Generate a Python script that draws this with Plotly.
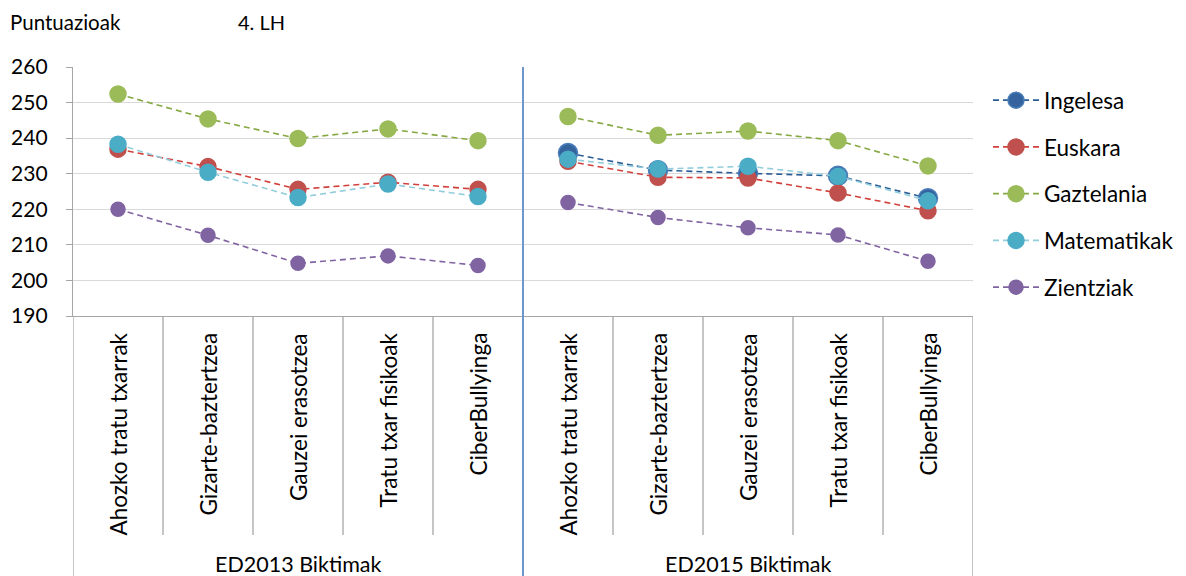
import plotly.graph_objects as go

# ---- data ----
groups = ["ED2013 Biktimak", "ED2015 Biktimak"]
categories = ["Ahozko tratu txarrak", "Gizarte-baztertzea", "Gauzei erasotzea",
              "Tratu txar fisikoak", "CiberBullyinga"]
series_names = ["Ingelesa", "Euskara", "Gaztelania", "Matematikak", "Zientziak"]

ingelesa_2013 = [None, None, None, None, None]
ingelesa_2015 = [235.8, 231.0, 230.1, 229.4, 223.1]
euskara_2013 = [236.9, 232.0, 225.6, 227.6, 225.6]
euskara_2015 = [233.5, 229.0, 228.8, 224.6, 219.6]
gaztelania_2013 = [252.4, 245.4, 239.9, 242.6, 239.3]
gaztelania_2015 = [246.1, 240.8, 242.0, 239.3, 232.2]
matematikak_2013 = [238.3, 230.4, 223.3, 227.1, 223.6]
matematikak_2015 = [234.1, 231.3, 232.1, 229.3, 222.4]
zientziak_2013 = [220.0, 212.7, 204.8, 206.9, 204.2]
zientziak_2015 = [221.9, 217.7, 214.8, 212.8, 205.4]

y_ticks = [190, 200, 210, 220, 230, 240, 250, 260]

# ---- styles ----
FONT = "Lato"
FS = 22.5
marker_fill = ["#34639E", "#C0504D", "#9BBB59", "#4BACC6", "#8064A2"]
marker_line = ["#4A7EBB", "#C0504D", "#9BBB59", "#4BACC6", "#8064A2"]
line_colors = ["#2A5D95", "#D2403C", "#86A843", "#92CDDC", "#8064A2"]
marker_sizes = [19, 16, 16, 16, 14]

series_data = [
    (ingelesa_2013, ingelesa_2015),
    (euskara_2013, euskara_2015),
    (gaztelania_2013, gaztelania_2015),
    (matematikak_2013, matematikak_2015),
    (zientziak_2013, zientziak_2015),
]

n = len(categories)
x_a = list(range(n))
x_b = [n + i for i in range(n)]
x_gap = n - 0.5

fig = go.Figure()
for k, name in enumerate(series_names):
    a, b = series_data[k]
    xs = x_a + [x_gap] + x_b
    ys = list(a) + [None] + list(b)
    fig.add_trace(go.Scatter(
        x=xs, y=ys, name=name, mode="lines+markers",
        legendgroup=name,
        connectgaps=False,
        line=dict(color=line_colors[k], width=1.6, dash="6px,4px"),
        marker=dict(size=marker_sizes[k], color=marker_fill[k],
                    line=dict(color=marker_line[k], width=1.5)),
    ))

# page has an 8px body margin; the figure sits at (8, 8)
OFF = 8
W, H = 1186 - OFF, 576 - OFF
ml, mr, mt, mb = 65, 213, 59, 260
pw = W - ml - mr
ph = H - mt - mb


def px(sx):
    return (sx - OFF - ml) / pw


def py(sy):
    return (OFF + H - mb - sy) / ph


shapes = []
total = 2 * n
for i in range(total + 1):
    xv = i - 0.5
    if i == n:
        shapes.append(dict(type="line", xref="x", yref="paper", x0=xv, x1=xv,
                           y0=1, y1=py(580), line=dict(color="#6D97CA", width=2)))
    elif i == 0 or i == total:
        shapes.append(dict(type="line", xref="x", yref="paper", x0=xv, x1=xv,
                           y0=0, y1=py(580), line=dict(color="#A6A6A6", width=1.3)))
    else:
        shapes.append(dict(type="line", xref="x", yref="paper", x0=xv, x1=xv,
                           y0=0, y1=py(535), line=dict(color="#A6A6A6", width=1.3)))

annotations = []
for g, grp in enumerate(groups):
    for i, cat in enumerate(categories):
        annotations.append(dict(
            x=g * n + i, y=py(331), xref="x", yref="paper",
            text=cat, textangle=-90, showarrow=False,
            xanchor="center", yanchor="top",
            font=dict(family=FONT, size=FS, color="#000000")))
    annotations.append(dict(
        x=g * n + (n - 1) / 2, y=py(564), xref="x", yref="paper",
        text=grp, showarrow=False, xanchor="center", yanchor="middle",
        font=dict(family=FONT, size=21.5, color="#000000")))

annotations.append(dict(x=px(8), y=py(22), xref="paper", yref="paper",
                        text="Puntuazioak", showarrow=False, xanchor="left",
                        yanchor="middle", font=dict(family=FONT, size=20.5, color="#000")))
annotations.append(dict(x=px(236), y=py(22), xref="paper", yref="paper",
                        text="4. LH", showarrow=False, xanchor="left",
                        yanchor="middle", font=dict(family=FONT, size=20, color="#000")))

fig.update_layout(
    width=W, height=H,
    margin=dict(l=ml, r=mr, t=mt, b=mb, autoexpand=False),
    paper_bgcolor="white", plot_bgcolor="white",
    font=dict(family=FONT, size=FS, color="#000000"),
    xaxis=dict(range=[-0.5, total - 0.5], showticklabels=False, showgrid=False,
               zeroline=False, showline=True, linecolor="#A6A6A6", linewidth=1.3,
               ticks="", automargin=False),
    yaxis=dict(range=[190, 260], tickvals=y_ticks, showgrid=True,
               gridcolor="#D9D9D9", gridwidth=1.2, zeroline=False,
               showline=True, linecolor="#A6A6A6", linewidth=1.3,
               ticks="outside", ticklen=6, tickcolor="#A6A6A6", tickwidth=1.3,
               ticklabelstandoff=14, automargin=False,
               tickfont=dict(family=FONT, size=21)),
    legend=dict(x=px(988), y=py(79), xanchor="left", yanchor="top",
                font=dict(family=FONT, size=FS), tracegroupgap=14.5,
                itemwidth=46, bgcolor="rgba(0,0,0,0)"),
    shapes=shapes,
    annotations=annotations,
    showlegend=True,
)

fig.write_html("out.html")
